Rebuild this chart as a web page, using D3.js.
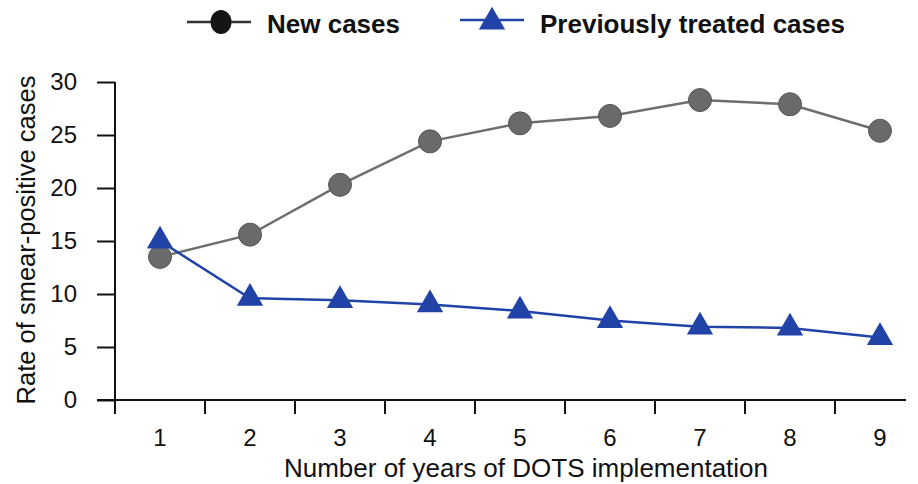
<!DOCTYPE html>
<html><head><meta charset="utf-8">
<script src="https://cdn.jsdelivr.net/npm/d3@7"></script>
<style>body{margin:0;background:#fff}svg{display:block}</style>
</head><body>
<script>
const years = [1,2,3,4,5,6,7,8,9];
const newCases = [13.5,15.6,20.3,24.4,26.1,26.8,28.3,27.9,25.4];
const prevTreated = [15.0,9.6,9.4,9.0,8.4,7.5,6.9,6.8,5.9];
const yTicks = [0,5,10,15,20,25,30];
const seriesNames = ["New cases","Previously treated cases"];

const W=918,H=484;
const svg=d3.select("body").append("svg").attr("width",W).attr("height",H);
const font="Liberation Sans, Arial, sans-serif";

const x=d3.scaleBand().domain(years).range([115,925]);
const y=d3.scaleLinear().domain([0,30]).range([400,82]);
const cx=d=>x(d)+x.bandwidth()/2;

// Y axis
const yAxis=d3.axisLeft(y).tickValues(yTicks).tickSize(18).tickSizeOuter(0).tickPadding(20);
const gy=svg.append("g").attr("transform","translate(115,0)").call(yAxis);
gy.select(".domain").remove();
gy.append("line").attr("x1",0).attr("x2",0).attr("y1",82).attr("y2",414).attr("stroke","#111").attr("stroke-width",2);
gy.selectAll(".tick line").attr("stroke","#111").attr("stroke-width",2);
gy.selectAll(".tick text").attr("font-family",font).attr("font-size",24).attr("fill","#111");

// X axis
const gx=svg.append("g").attr("transform","translate(0,400)");
gx.append("line").attr("x1",97).attr("x2",906).attr("y1",0).attr("y2",0).attr("stroke","#111").attr("stroke-width",2);
gx.selectAll("line.t").data(years.slice(1)).join("line").attr("class","t")
  .attr("x1",d=>x(d)).attr("x2",d=>x(d)).attr("y1",0).attr("y2",14).attr("stroke","#111").attr("stroke-width",2);
gx.selectAll("text").data(years).join("text").attr("x",d=>cx(d)).attr("y",46)
  .attr("text-anchor","middle").attr("font-family",font).attr("font-size",24).attr("fill","#111").text(d=>d);

// Axis titles
svg.append("text").attr("x",526).attr("y",477).attr("text-anchor","middle").attr("font-family",font)
  .attr("font-size",26).attr("fill","#111").text("Number of years of DOTS implementation");
svg.append("text").attr("transform","translate(35,240) rotate(-90)").attr("text-anchor","middle").attr("font-family",font)
  .attr("font-size",25.5).attr("fill","#111").text("Rate of smear-positive cases");

// Series
const grayLine="#6e6e6e", grayFill="#6a6a6a", blue="#2143a8";
const line=d3.line().x((d,i)=>cx(years[i])).y(d=>y(d));
svg.append("path").datum(newCases).attr("d",line).attr("fill","none").attr("stroke",grayLine).attr("stroke-width",2.5);
svg.selectAll("circle.n").data(newCases).join("circle").attr("class","n")
  .attr("cx",(d,i)=>cx(years[i])).attr("cy",d=>y(d)).attr("r",11.5).attr("fill",grayFill).attr("stroke","#555").attr("stroke-width",1);
svg.append("path").datum(prevTreated).attr("d",line).attr("fill","none").attr("stroke",blue).attr("stroke-width",2.5);
const tri=d3.symbol().type(d3.symbolTriangle).size(300);
svg.selectAll("path.p").data(prevTreated).join("path").attr("class","p")
  .attr("transform",(d,i)=>`translate(${cx(years[i])},${y(d)})`).attr("d",tri).attr("fill",blue);

// Legend
const lg=svg.append("g");
lg.append("line").attr("x1",187).attr("x2",251).attr("y1",22).attr("y2",22).attr("stroke","#333").attr("stroke-width",2.5);
lg.append("ellipse").attr("cx",221).attr("cy",22).attr("rx",10.5).attr("ry",12).attr("fill","#151515");
lg.append("text").attr("x",267).attr("y",33).attr("font-family",font).attr("font-weight","bold").attr("font-size",26)
  .attr("fill","#111").text(seriesNames[0]);
lg.append("line").attr("x1",460).attr("x2",524).attr("y1",20).attr("y2",20).attr("stroke",blue).attr("stroke-width",2.5);
lg.append("path").attr("transform","translate(492,22)").attr("d",tri).attr("fill",blue);
lg.append("text").attr("x",540).attr("y",33).attr("font-family",font).attr("font-weight","bold").attr("font-size",26)
  .attr("fill","#111").text(seriesNames[1]);
</script>
</body></html>
